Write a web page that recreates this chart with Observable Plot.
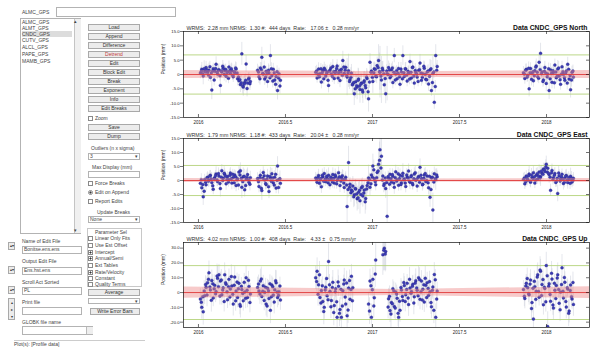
<!DOCTYPE html>
<html><head><meta charset="utf-8">
<script src="https://cdn.jsdelivr.net/npm/d3@7"></script>
<script src="https://cdn.jsdelivr.net/npm/@observablehq/plot@0.6"></script>
<style>
body{margin:0;width:592px;height:347px;overflow:hidden;background:#fff;position:relative;font-family:"Liberation Sans",Arial,sans-serif}
.t{position:absolute;font-size:5px;line-height:6px;color:#444;white-space:nowrap}
.b{position:absolute;box-sizing:border-box;border:1px solid #a9a9a9;background:#ececec;font-size:5px;line-height:5px;text-align:center;color:#333;white-space:nowrap}
.f{position:absolute;box-sizing:border-box;border:1px solid #b3b3b3;background:#fff;font-size:5px;line-height:5px;color:#444;padding-left:1px;white-space:nowrap}
.c{position:absolute;box-sizing:border-box;width:5px;height:5px;border:1px solid #8a8a8a;background:#fff}
.c.on{background:radial-gradient(#333 45%,#fff 50%)}
.p{position:absolute}
</style></head>
<body>
<!-- left control panel -->
<div class="t" style="left:22px;top:9px">ALMC_GPS</div>
<div class="f" style="left:56px;top:7px;width:120px;height:10px"></div>
<div class="f" style="left:20px;top:18px;width:61px;height:216px;padding:0"></div>
<div class="p" style="left:74px;top:19px;width:6px;height:214px;background:#f0f0f0;border-left:1px solid #c4c4c4"></div>
<div class="t" style="left:74px;top:18px;font-size:5px">▴</div>
<div class="t" style="left:74px;top:227px;font-size:5px">▾</div>
<div class="t" style="left:22px;top:19px">ALMC_GPS</div>
<div class="t" style="left:22px;top:25px">ALMT_GPS</div>
<div class="t" style="left:22px;top:31px;background:#dcdcdc;width:50px">CNDC_GPS</div>
<div class="t" style="left:22px;top:37px">CUTV_GPS</div>
<div class="t" style="left:22px;top:44px">ALCL_GPS</div>
<div class="t" style="left:22px;top:51px">PAPE_GPS</div>
<div class="t" style="left:22px;top:58px">MAMB_GPS</div>

<div class="b" style="left:88px;top:24px;width:52px;height:7px">Load</div>
<div class="b" style="left:88px;top:33px;width:52px;height:7px">Append</div>
<div class="b" style="left:88px;top:42px;width:52px;height:7px">Difference</div>
<div class="b" style="left:88px;top:51px;width:52px;height:7px;color:#c23a3a">Detrend</div>
<div class="b" style="left:88px;top:60px;width:52px;height:7px">Edit</div>
<div class="b" style="left:88px;top:69px;width:52px;height:7px">Block Edit</div>
<div class="b" style="left:88px;top:78px;width:52px;height:7px">Break</div>
<div class="b" style="left:88px;top:87px;width:52px;height:7px">Exponent</div>
<div class="b" style="left:88px;top:96px;width:52px;height:7px">Info</div>
<div class="b" style="left:88px;top:105px;width:52px;height:7px">Edit Breaks</div>
<div class="c" style="left:88px;top:116px"></div><div class="t" style="left:95px;top:115px">Zoom</div>
<div class="b" style="left:88px;top:124px;width:52px;height:7px">Save</div>
<div class="b" style="left:88px;top:133px;width:52px;height:7px">Dump</div>
<div class="t" style="left:91px;top:145px">Outliers (n x sigma)</div>
<div class="f" style="left:88px;top:153px;width:52px;height:7px">3</div><div class="t" style="left:135px;top:153px">▾</div>
<div class="t" style="left:92px;top:164px">Max Display (mm)</div>
<div class="f" style="left:88px;top:171px;width:52px;height:7px"></div>
<div class="c" style="left:88px;top:181px"></div><div class="t" style="left:95px;top:180px">Force Breaks</div>
<div class="c on" style="left:88px;top:190px;border-radius:50%"></div><div class="t" style="left:95px;top:189px">Edit on Append</div>
<div class="c" style="left:88px;top:199px"></div><div class="t" style="left:95px;top:198px">Report Edits</div>
<div class="t" style="left:97px;top:209px">Update Breaks</div>
<div class="f" style="left:88px;top:216px;width:52px;height:7px">None</div><div class="t" style="left:135px;top:216px">▾</div>

<div class="p" style="left:87px;top:228px;width:55px;height:59px;box-sizing:border-box;border:1px solid #c8c8c8"></div>
<div class="t" style="left:95px;top:229px">Parameter Sel</div>
<div class="c" style="left:88px;top:236px"></div><div class="t" style="left:95px;top:235px">Linear Only Fits</div>
<div class="c" style="left:88px;top:243px"></div><div class="t" style="left:95px;top:242px">Use Est Offset</div>
<div class="c on" style="left:88px;top:250px"></div><div class="t" style="left:95px;top:249px">Intercept</div>
<div class="c on" style="left:88px;top:256px"></div><div class="t" style="left:95px;top:255px">Annual/Semi</div>
<div class="c" style="left:88px;top:263px"></div><div class="t" style="left:95px;top:262px">Ext Tables</div>
<div class="c on" style="left:88px;top:270px"></div><div class="t" style="left:95px;top:269px">Rate/Velocity</div>
<div class="c" style="left:88px;top:276px"></div><div class="t" style="left:95px;top:275px">Constant</div>
<div class="c" style="left:88px;top:282px"></div><div class="t" style="left:95px;top:281px">Quality Terms</div>
<div class="b" style="left:88px;top:289px;width:52px;height:7px">Average</div>
<div class="f" style="left:88px;top:298px;width:52px;height:6px"></div><div class="t" style="left:135px;top:298px">▾</div>
<div class="b" style="left:90px;top:308px;width:50px;height:7px">Write Error Bars</div>

<div class="t" style="left:22px;top:238px">Name of Edit File</div>
<div class="b" style="left:8px;top:242px;width:7px;height:8px;font-size:4px">▴▾</div>
<div class="f" style="left:22px;top:246px;width:60px;height:8px">Bonitse.ens.ens</div>
<div class="t" style="left:22px;top:258px">Output Edit File</div>
<div class="b" style="left:8px;top:266px;width:7px;height:8px;font-size:4px">▴▾</div>
<div class="f" style="left:22px;top:267px;width:60px;height:8px">Ens.hst.ens</div>
<div class="t" style="left:22px;top:279px">Scroll Act Sorted</div>
<div class="b" style="left:8px;top:286px;width:7px;height:8px;font-size:4px">▴▾</div>
<div class="f" style="left:22px;top:287px;width:60px;height:8px">PL</div>
<div class="t" style="left:22px;top:299px">Print file</div>
<div class="b" style="left:8px;top:298px;width:7px;height:22px;font-size:4px;line-height:7px">▴<br>▸<br>▾</div>
<div class="f" style="left:22px;top:307px;width:60px;height:8px"></div>
<div class="t" style="left:22px;top:319px">GLOBK file name</div>
<div class="f" style="left:22px;top:326px;width:71px;height:9px"></div>
<div class="p" style="left:86px;top:327px;width:6px;height:7px;background:#eee;border-left:1px solid #bbb"></div>
<div class="t" style="left:14px;top:341px">Plot(s): [Profile data]</div>
<div class="p" style="left:14px;top:340px;width:131px;height:0;border-top:1px solid #ccc"></div>

<div id="p0" class="p" style="left:150px;top:17px"></div>
<div id="p1" class="p" style="left:150px;top:124px"></div>
<div id="p2" class="p" style="left:150px;top:228px"></div>

<script>
// ---- data, two interleaved sets of daily solutions ----
const days = [
 4,7,10,13,16,19,22,25,28,31,34,37,40,43,46,49,52,55,58,61,64,67,70,73,76,79,82,85,88,91,94,97,100,103,106,109,
 124,127,130,133,136,139,142,145,148,151,154,157,160,163,166,169,172,
 246,249,252,255,258,261,264,267,270,273,276,279,282,285,288,291,294,297,300,303,
 306,309,312,315,318,321,324,327,330,333,336,339,342,345,348,351,354,357,360,363,
 366,369,372,375,378,381,384,387,390,393,396,399,402,405,408,411,414,417,420,423,
 426,429,432,435,438,441,444,447,450,453,456,459,462,465,468,471,474,477,480,483,
 486,489,492,495,498,501,
 682,685,688,691,694,697,700,703,706,709,712,715,718,721,724,727,730,733,736,739,
 742,745,748,751,754,757,760,763,766,769,772,775,778,781,784,787
];
const north = [
 0.5,1.8,-0.5,1.2,2.4,0.8,1.5,-1.0,-5.4,2.0,1.1,3.6,0.2,1.7,-3.8,0.9,2.2,1.4,-0.6,1.0,2.6,0.4,1.3,-0.8,0.7,1.9,-1.5,-2.2,-3.5,7.2,-4.4,-2.8,3.7,-3.0,-1.2,-2.4,
 1.5,-0.8,2.3,6.0,0.2,-1.6,1.1,-2.4,0.6,6.6,-0.4,1.8,-1.9,-0.7,-5.6,0.3,-2.0,
 0.8,-1.2,1.9,0.3,-2.6,1.4,2.2,-0.5,0.9,-3.8,1.6,0.2,2.8,-1.4,1.1,3.0,0.6,-2.1,1.8,4.9,
 0.4,2.5,-0.9,1.3,-1.8,0.5,-3.2,-6.7,-2.5,-4.4,-1.6,-5.2,-3.0,-6.1,-2.2,-4.6,-1.4,-8.5,4.3,1.2,
 -2.4,2.0,-0.6,3.1,4.9,0.8,-1.9,1.5,-3.6,-6.7,0.3,2.4,-1.1,1.7,-2.8,6.6,0.2,-1.5,2.1,-3.4,
 0.9,6.6,-0.7,1.9,-2.3,0.5,4.5,-1.2,2.6,-3.0,0.7,-0.9,1.4,4.0,-2.0,0.3,2.2,-1.7,0.9,-3.3,
 1.6,-5.6,0.4,-9.7,6.6,2.8,
 0.6,-1.4,1.8,-0.3,-5.0,2.1,0.4,-2.2,1.3,3.0,-0.8,4.3,7.4,0.9,-1.9,2.4,-3.1,0.2,-5.6,1.6,
 -2.7,0.7,3.3,-1.1,1.9,-0.5,-3.4,2.7,0.1,-2.0,1.2,3.6,-1.6,-5.3,0.8,-0.9
];
const east = [
 -1.0,-2.6,-5.8,0.4,-1.5,1.2,0.2,1.9,-0.7,-3.1,1.0,2.3,-0.4,1.6,-2.9,3.5,0.8,2.2,-1.2,1.4,0.3,2.7,-0.9,1.1,2.0,-1.8,0.6,3.0,3.5,-2.4,1.3,-3.3,0.5,2.1,-0.6,1.0,
 0.7,-2.1,1.9,-3.6,2.9,0.2,-1.4,1.6,-3.9,0.9,2.4,-0.8,1.2,-2.7,5.2,0.4,-1.0,
 0.9,-0.6,1.8,0.2,-2.2,1.3,2.5,-0.4,0.8,1.9,-1.5,0.6,2.1,-0.9,1.4,0.0,2.8,-1.8,1.0,0.4,
 -2.5,1.2,-9.3,6.4,-1.3,-3.4,-2.0,-5.1,-3.0,-6.5,-4.2,-7.2,-2.6,-5.5,-3.4,-6.4,-1.8,0.9,-2.4,2.0,
 5.2,0.6,-1.5,2.9,5.8,11.0,8.7,1.6,-1.2,-2.9,-12.8,0.8,2.2,-0.5,1.5,-2.4,3.1,0.3,-1.7,1.9,
 -0.8,2.6,0.5,-2.1,1.2,3.4,-0.6,1.8,-1.5,2.3,0.1,-2.0,1.4,4.7,0.7,-1.3,2.0,-0.4,1.6,-2.6,
 -6.0,0.9,-10.5,2.4,0.3,1.3,
 0.4,-1.2,1.6,0.2,2.3,-0.6,1.1,2.8,-0.9,1.9,0.5,3.0,1.4,2.6,4.1,3.2,5.8,4.4,2.1,-3.5,
 3.6,1.0,2.5,-0.3,-4.6,1.7,0.6,2.2,-1.1,0.9,1.8,-0.7,0.4,1.5,-0.5,0.8
];
const up = [
 -4.4,-10.0,-13.0,-2.1,3.5,6.7,13.3,1.8,8.2,-3.6,4.9,0.7,9.6,12.0,7.8,-1.5,3.2,12.0,5.6,-4.8,8.9,2.4,4.4,-7.8,10.5,1.1,-3.3,6.3,-9.2,2.0,-5.5,0.4,10.0,-3.3,4.1,-1.0,
 3.4,1.0,7.8,-2.6,4.6,0.2,-7.8,2.9,-4.0,-12.0,5.1,-1.7,1.9,6.7,-3.3,0.6,-5.0,
 10.0,14.4,5.2,-3.3,1.4,-6.0,-10.0,3.6,-2.2,21.0,0.8,-5.4,6.9,-8.8,2.5,-16.7,4.3,-11.5,-16.7,1.2,
 8.4,-7.8,-15.6,3.0,-4.5,11.0,3.3,null,null,null,null,null,null,null,null,null,null,-7.8,7.8,-16.7,
 8.9,-3.5,22.0,null,null,null,null,25.6,30.0,27.8,null,-4.2,-12.2,-6.7,2.6,-9.5,0.4,-3.8,-16.7,-12.0,
 1.8,-5.3,4.7,-1.4,6.2,-8.1,3.0,0.7,5.6,-2.9,8.0,1.5,10.0,-4.6,7.8,2.3,-6.4,4.9,6.7,-1.8,
 0.5,-9.6,3.8,12.2,-16.7,1.0,
 2.1,-4.0,6.2,3.3,-1.5,8.4,-6.8,-17.8,4.0,0.9,12.0,-3.1,14.4,5.5,-8.2,2.7,18.2,-23.0,6.0,-5.9,
 9.1,-10.5,1.6,4.8,12.0,-7.2,0.3,16.7,-3.6,7.0,-9.8,2.4,-12.5,5.1,-4.3,-8.0
];
const sigH = [
 2.0,2.4,3.1,1.8,2.2,1.9,2.5,1.7,3.4,2.0,1.9,2.6,1.8,2.1,3.0,2.2,1.7,2.0,2.3,1.8,2.1,1.9,2.4,2.0,1.8,2.2,2.5,2.1,2.8,4.0,3.2,2.6,2.9,2.4,2.0,2.3,
 2.1,2.3,1.9,3.5,2.0,2.2,1.8,2.4,2.6,3.8,1.9,2.1,2.3,2.0,3.3,1.9,2.2,
 2.0,1.8,2.2,1.9,2.4,2.0,2.1,1.8,2.3,2.6,1.9,2.0,2.4,2.1,1.8,2.2,2.0,2.5,1.9,3.2,
 2.1,1.9,6.5,5.8,2.4,3.0,3.4,4.1,3.2,4.4,3.6,4.8,3.1,4.0,3.3,4.2,2.9,4.6,3.0,2.6,
 4.2,2.4,2.2,3.0,5.5,9.0,8.2,3.1,2.6,3.5,9.5,2.3,2.1,2.0,2.2,2.5,2.4,1.9,2.1,2.2,
 2.0,3.4,1.8,2.3,2.0,2.5,2.6,2.1,1.9,2.2,2.0,2.3,1.9,3.0,2.1,2.0,2.2,1.8,2.1,2.6,
 3.6,2.0,6.0,2.4,3.8,2.1,
 2.2,2.0,1.9,2.1,2.8,2.0,1.8,2.3,2.0,2.4,1.9,2.6,3.5,2.0,2.1,2.2,2.9,2.0,3.1,2.2,
 2.3,1.9,2.1,2.0,3.0,2.2,2.1,1.9,2.3,2.0,2.2,2.4,2.0,2.9,2.1,2.0
];
const sigU = [
 7,8,9,6,7,6,8,6,7,6,7,6,8,7,6,7,6,8,7,6,7,6,7,8,7,6,7,6,8,6,7,6,8,7,6,7,
 7,6,8,6,7,6,8,6,7,9,6,7,6,8,7,6,7,
 8,9,7,6,7,6,8,7,6,12,6,7,8,7,6,9,7,8,9,6,
 8,7,9,7,6,8,7,9,9,9,9,9,9,9,9,9,9,8,8,9,
 8,7,11,9,9,9,9,14,15,13,9,7,8,7,6,8,6,7,9,8,
 6,7,6,7,6,8,6,7,6,7,8,6,8,7,7,6,7,6,7,6,
 6,8,7,8,9,6,
 6,7,6,6,7,7,7,9,6,6,8,6,8,7,7,6,9,10,6,7,
 7,8,6,6,8,7,6,9,6,7,8,6,8,6,7,8
];
const days2 = [
 6,9,12,15,18,21,24,27,30,33,36,39,42,45,48,51,54,57,60,63,66,69,72,75,78,81,84,87,90,93,96,99,102,105,108,
 126,129,132,135,138,141,144,147,150,153,156,159,162,165,168,171,
 248,251,254,257,260,263,266,269,272,275,278,281,284,287,290,293,296,299,302,305,
 308,311,314,317,320,323,326,329,332,335,338,341,344,347,350,353,356,359,362,365,
 368,371,374,377,380,383,386,389,392,395,398,401,404,407,410,413,416,419,422,425,
 428,431,434,437,440,443,446,449,452,455,458,461,464,467,470,473,476,479,482,485,
 488,491,494,497,500,
 684,687,690,693,696,699,702,705,708,711,714,717,720,723,726,729,732,735,738,741,
 744,747,750,753,756,759,762,765,768,771,774,777,780,783,786
];
const north2 = [
 1.1,0.3,2.0,0.9,1.6,-0.2,2.7,0.6,1.3,-1.9,2.1,0.8,1.5,-0.4,1.2,2.9,0.1,1.8,0.7,-1.3,1.4,2.0,-0.3,1.0,2.3,0.5,-0.9,-1.8,-2.9,-4.0,-3.3,-2.0,-4.9,-1.6,-3.2,
 0.9,-1.5,1.7,0.4,2.6,-0.9,0.3,1.5,-1.1,2.0,-2.3,0.6,-3.4,1.0,-1.2,-4.0,
 1.2,0.1,-0.8,2.0,0.7,-1.5,1.6,0.4,-2.0,1.1,2.3,-0.6,1.0,0.5,2.1,-1.2,1.4,0.9,-0.3,2.6,
 1.5,-0.4,0.6,-2.4,-1.0,-3.6,-2.8,-5.0,-3.9,-2.0,-4.0,-3.3,-5.4,-2.7,-3.8,-0.9,-6.0,-2.6,0.8,-1.0,
 0.6,1.8,-0.8,2.4,1.0,-0.5,2.2,0.3,-1.4,1.2,0.0,1.6,-0.6,2.3,0.8,-1.9,1.3,0.4,-0.8,1.9,
 -1.5,0.6,2.0,-0.2,1.1,-1.6,0.8,2.4,-0.5,1.4,0.2,-2.4,1.7,0.5,-1.0,2.9,0.1,-1.8,1.2,-0.6,
 2.0,-2.8,0.9,-4.2,1.5,
 0.2,1.5,-0.9,2.2,0.6,-1.7,1.0,-0.4,2.6,0.8,-1.3,1.7,0.3,-2.4,1.1,0.5,-0.8,2.0,-1.5,0.4,
 1.3,-2.9,0.9,-0.6,2.3,-1.8,0.2,1.0,-1.1,0.6,-3.0,1.8,-0.4,-1.9,1.2
];
const east2 = [
 0.3,-1.4,-3.8,-0.6,0.9,-0.2,1.6,0.5,-1.9,0.7,1.8,0.2,2.5,-1.1,1.2,0.0,2.6,1.5,0.4,-0.5,1.9,0.6,2.2,-0.8,1.3,0.3,-1.6,2.0,0.8,-0.4,1.5,-1.8,1.1,0.2,-1.3,
 -0.4,1.0,-2.8,0.8,1.7,-1.1,0.5,-2.2,1.4,-0.3,0.9,-1.6,2.2,0.1,-2.5,0.6,
 0.2,1.1,-1.0,0.7,1.9,-0.3,0.5,1.5,-0.8,0.3,1.2,-0.5,0.8,2.0,-1.2,0.6,1.3,-0.2,1.7,-0.9,
 0.4,-1.6,-3.2,-2.4,-4.4,-3.8,-5.8,-2.9,-4.8,-6.2,-3.5,-5.0,-2.1,-4.5,-7.6,-3.0,-0.8,0.4,-1.2,1.2,
 3.8,-0.4,1.0,3.4,7.2,4.5,0.2,-1.8,0.9,-0.7,1.4,-1.3,0.6,2.1,-0.9,1.0,-0.2,2.4,0.7,-1.4,
 1.6,0.3,-0.9,2.0,0.9,-0.3,1.3,-1.0,0.6,2.8,0.4,1.1,-0.6,1.9,-1.5,0.8,2.5,0.0,-0.8,1.5,
 -3.2,1.2,-0.5,0.6,2.0,
 0.9,-0.4,0.6,1.7,-0.2,2.0,0.7,1.3,0.2,2.4,1.6,0.9,3.4,2.2,3.9,4.8,3.0,2.5,1.2,2.8,
 0.4,1.9,-0.7,0.8,2.7,-0.2,1.3,0.5,-0.6,1.6,0.2,1.1,-1.0,0.7,0.0
];
const up2 = [
 -6.5,-2.8,1.0,5.4,-1.6,9.0,3.7,-5.2,6.0,2.5,-0.8,11.2,4.0,-2.4,8.5,1.7,-6.1,6.6,0.5,3.9,-3.0,10.8,-1.2,5.0,-5.6,7.1,2.6,-8.0,4.2,-0.6,6.9,-3.9,1.6,8.3,-6.7,
 5.8,-1.0,9.2,0.9,-5.3,3.6,-9.0,1.2,6.0,-2.9,3.9,-6.4,8.0,0.4,-1.8,4.4,
 7.5,-1.2,12.0,-7.0,4.6,-12.8,1.8,9.5,-4.8,5.2,-9.6,3.4,-13.4,0.6,-6.2,7.2,-14.0,2.2,-9.0,5.8,
 -3.0,6.5,-11.8,8.2,2.0,-5.5,null,null,null,null,null,null,null,null,null,null,null,-12.5,4.6,1.9,
 -9.0,12.5,null,null,null,null,null,28.6,26.0,null,-9.8,-2.5,-14.5,-7.5,1.2,-10.5,-1.0,-14.0,-5.8,3.4,
 -2.6,6.8,-6.0,2.1,-3.7,9.0,-0.5,4.2,-7.0,6.4,3.1,-2.2,8.8,0.6,-5.0,5.3,9.6,-3.4,2.8,7.4,
 -6.8,1.5,-12.0,8.6,-4.4,
 -2.5,4.5,9.5,-0.8,5.7,-10.8,2.9,7.6,-4.6,10.5,0.7,15.2,-2.0,8.8,3.6,-6.2,11.4,4.2,-1.3,13.0,
 -8.4,6.3,-4.1,9.8,2.0,-11.6,5.4,0.9,10.2,-6.0,3.3,-14.0,1.4,-2.8,6.8
];
const sigH2 = [
 2.1,1.9,2.8,2.0,1.8,2.2,1.9,2.4,2.0,2.1,1.8,2.3,2.0,1.9,2.2,2.0,2.4,1.8,2.1,1.9,2.2,2.0,1.8,2.3,2.1,1.9,2.0,2.4,2.6,2.8,2.5,2.2,2.9,2.1,2.4,
 2.0,2.2,2.4,1.9,2.1,2.3,1.8,2.2,2.0,2.1,2.4,1.9,2.6,2.0,2.3,2.8,
 2.0,1.9,2.1,1.8,2.2,2.0,1.9,2.3,2.1,2.0,1.8,2.2,2.0,2.1,1.9,2.3,2.0,1.8,2.2,2.1,
 2.0,2.4,3.0,2.8,3.4,3.1,3.9,3.2,3.6,4.2,3.4,3.8,3.0,3.5,4.4,3.0,2.4,2.2,2.6,2.3,
 3.5,2.2,2.4,3.2,6.5,5.0,2.3,2.6,2.1,2.2,2.0,2.3,1.9,2.1,2.2,2.0,1.8,2.2,2.1,2.3,
 2.0,1.9,2.1,2.2,1.8,2.0,2.1,2.3,2.0,2.4,2.1,1.9,2.2,2.0,2.3,1.8,2.1,2.0,2.2,2.1,
 2.9,2.0,2.3,2.1,2.2,
 2.0,2.1,1.9,2.2,2.0,2.3,1.8,2.1,2.0,2.2,1.9,2.4,2.0,2.1,2.3,2.6,2.2,2.0,1.9,2.1,
 2.0,2.2,1.8,2.1,2.3,2.0,1.9,2.2,2.0,2.1,2.4,2.0,2.2,2.5,2.1
];
const sigU2 = [
 7,6,7,6,8,6,7,8,6,7,6,8,7,6,7,6,7,8,6,7,6,8,7,6,7,6,8,7,6,7,6,7,8,6,7,
 6,7,8,6,7,6,8,7,6,7,6,8,7,6,7,6,
 7,8,9,7,6,9,7,8,6,7,8,7,9,6,7,8,9,7,8,6,
 7,8,9,7,7,8,9,9,9,9,9,9,9,9,9,9,9,9,7,6,
 8,9,9,9,9,9,9,14,12,9,8,7,9,7,6,8,6,9,7,6,
 7,6,7,6,7,8,6,7,8,6,6,7,8,6,7,6,8,7,6,7,
 8,6,9,7,7,
 7,6,7,6,7,8,6,7,6,8,7,9,6,7,6,7,8,6,7,8,
 7,6,7,8,6,8,6,7,8,7,6,9,6,7,7
];
const xTicks = [2016, 2016.5, 2017, 2017.5, 2018];
const xTickLabels = ["2016", "2016.5", "2017", "2017.5", "2018"];
const yTicksNE = [-15, -10, -5, 0, 5, 10, 15];
const yTicksU = [-20, -10, 0, 10, 20, 30];
const panelNames = ["Data CNDC_GPS North", "Data CNDC_GPS East", "Data CNDC_GPS Up"];
const wrms = [2.28, 1.79, 4.02];
const nrms = [1.30, 1.18, 1.00];
const nDays = [444, 433, 408];
const rates = [17.06, 20.04, 4.33];
const rateSig = [0.28, 0.28, 0.75];
const limits = [6.84, 5.37, 18.2];
const bandT = [2015.914, 2017.15, 2018.247];
const bandN = [1.4, 1.0, 1.4];
const bandE = [0.7, 0.5, 0.7];
const bandU = [3.8, 2.0, 4.0];

// ---- drawing ----
const toYear = d => 2016 + d / 365.25;
const NB = "\u00a0";
const font = "'Liberation Sans', Arial, sans-serif";
const cfg = [
  {vals: north, vals2: north2, sig: sigH, sig2: sigH2, domain: [-15, 15], ticks: yTicksNE, band: bandN, height: 112},
  {vals: east, vals2: east2, sig: sigH, sig2: sigH2, domain: [-15, 15], ticks: yTicksNE, band: bandE, height: 110},
  {vals: up, vals2: up2, sig: sigU, sig2: sigU2, domain: [-23.6, 33.8], ticks: yTicksU, band: bandU, height: 111}
];
const W = 442, mL = 33, mR = 3, mT = 14, mB = 12;
cfg.forEach((c, k) => {
  const data = days.map((d, i) => ({t: toYear(d), v: c.vals[i], s: c.sig[i]}))
    .concat(days2.map((d, i) => ({t: toYear(d), v: c.vals2[i], s: c.sig2[i]})))
    .filter(d => d.v != null);
  const band = bandT.map((t, i) => ({t, lo: -c.band[i], hi: c.band[i]}));
  const H = c.height - mT - mB, FW = W - mL - mR;
  const stat = `WRMS:${NB}${NB}${wrms[k].toFixed(2)} mm NRMS:${NB}${NB}${nrms[k].toFixed(2)} #:${NB}${NB}${nDays[k]} days${NB}${NB}Rate:${NB}${NB}${NB}${rates[k].toFixed(2)} ±${NB}${NB}${NB}${rateSig[k].toFixed(2)} mm/yr`;
  const fmtY = d => d === 0 ? "0" : d.toFixed(1);
  const svg = Plot.plot({
    width: W, height: c.height, marginLeft: mL, marginRight: mR, marginTop: mT, marginBottom: mB,
    style: {fontFamily: font, background: "transparent", overflow: "visible", color: "#222"},
    x: {domain: [2015.914, 2018.247], axis: null},
    y: {domain: c.domain, axis: null},
    marks: [
      Plot.ruleX(data, {x: "t", y1: d => d.v - d.s, y2: d => d.v + d.s, stroke: "#c9ccd8", strokeWidth: 0.5, clip: true}),
      Plot.ruleY([-limits[k], limits[k]], {stroke: "#b4d27a", strokeWidth: 0.9}),
      Plot.dot(data, {x: "t", y: "v", r: 1.5, fill: "#3b3bb4", stroke: "#23237e", strokeWidth: 0.3, clip: true}),
      Plot.areaY(band, {x: "t", y1: "lo", y2: "hi", fill: "#ee8a8a", fillOpacity: 0.45}),
      Plot.ruleY([0], {stroke: "#e03a3a", strokeWidth: 0.9}),
      Plot.frame({stroke: "#111", strokeWidth: 0.7}),
      Plot.tickX(xTicks, {x: d => d, insetTop: H - 3, stroke: "#111", strokeWidth: 0.6}),
      Plot.tickX(xTicks, {x: d => d, insetBottom: H - 3, stroke: "#111", strokeWidth: 0.6}),
      Plot.tickY(c.ticks, {y: d => d, insetLeft: FW - 3, stroke: "#111", strokeWidth: 0.6}),
      Plot.axisY(c.ticks, {anchor: "left", tickSize: 3, tickPadding: 1, fontSize: 4.2, tickFormat: fmtY, strokeWidth: 0.6, label: null}),
      Plot.axisX(xTicks, {anchor: "bottom", tickSize: 0, tickPadding: 3, fontSize: 4.5, tickFormat: d => xTickLabels[xTicks.indexOf(d)], label: null}),
      Plot.text(["Position (mm)"], {frameAnchor: "left", rotate: -90, dx: -20, fontSize: 5, fill: "#222"}),
      Plot.text([stat], {frameAnchor: "top-left", dx: 3, dy: -1.5, lineAnchor: "bottom", textAnchor: "start", fontSize: 5.3, fill: "#333"}),
      Plot.text([panelNames[k]], {frameAnchor: "top-right", dx: -2, dy: -1.5, lineAnchor: "bottom", textAnchor: "end", fontSize: 6.8, fontWeight: "bold", fill: "#111"})
    ]
  });
  document.getElementById("p" + k).appendChild(svg);
});
</script>
</body></html>
